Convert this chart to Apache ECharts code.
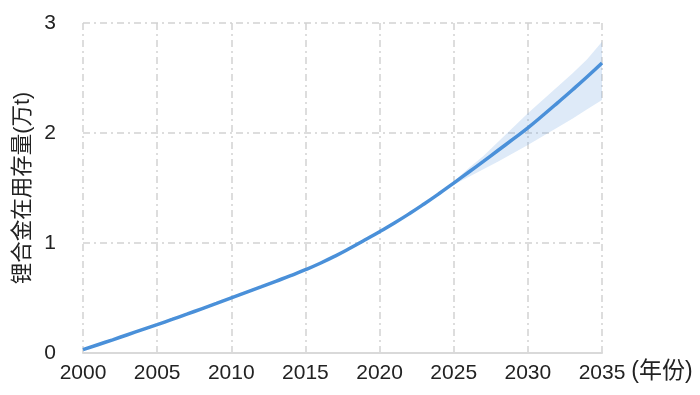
<!DOCTYPE html>
<html><head><meta charset="utf-8">
<script src="https://cdn.jsdelivr.net/npm/echarts@6/dist/echarts.min.js"></script>
<style>html,body{margin:0;padding:0;background:#fff}#c{width:700px;height:395px}</style>
</head><body><div id="c"></div>
<script>
var years = [2000,2001,2002,2003,2004,2005,2006,2007,2008,2009,2010,2011,2012,2013,2014,2015,2016,2017,2018,2019,2020,2021,2022,2023,2024,2025,2026,2027,2028,2029,2030,2031,2032,2033,2034,2035];
var stock = [0.03,0.075,0.12,0.166,0.212,0.258,0.305,0.353,0.402,0.451,0.501,0.551,0.601,0.652,0.703,0.757,0.816,0.881,0.952,1.027,1.103,1.182,1.266,1.355,1.448,1.545,1.643,1.742,1.843,1.944,2.047,2.159,2.274,2.391,2.511,2.636];
var bandYears = [2024,2025,2026,2027,2028,2029,2030,2031,2032,2033,2034,2035];
var bandLow  = [1.448,1.53,1.60,1.67,1.74,1.815,1.89,1.97,2.05,2.13,2.215,2.30];
var bandHigh = [1.448,1.56,1.68,1.79,1.92,2.05,2.18,2.30,2.42,2.54,2.67,2.83];
var xTicks = [2000,2005,2010,2015,2020,2025,2030,2035];
var yTicks = [0,1,2,3];
var yName = '锂合金在用存量(万t)';
var xName = '(年份)';

var FONT = '"Liberation Sans","Noto Sans CJK SC",sans-serif';
var gridLine = {show:true, lineStyle:{color:'#d2d2d2', width:1.5, type:[7,4,2,4]}};
var chart = echarts.init(document.getElementById('c'), null, {renderer:'canvas'});
chart.setOption({
  animation:false,
  grid:{left:83, right:98, top:23, bottom:42},
  xAxis:{type:'value', min:xTicks[0], max:xTicks[xTicks.length-1], interval:5,
    name:xName, nameLocation:'end', nameGap:28,
    nameTextStyle:{color:'#222', fontSize:23, fontFamily:FONT, verticalAlign:'top', padding:[7,0,0,0]},
    axisLine:{show:true, lineStyle:{color:'#d9d9d9', width:2}},
    axisTick:{show:false},
    axisLabel:{color:'#222', fontSize:21, fontFamily:FONT, margin:10, formatter:function(v){return String(v);}},
    splitLine:gridLine},
  yAxis:{type:'value', min:yTicks[0], max:yTicks[yTicks.length-1], interval:1,
    name:yName, nameLocation:'middle', nameGap:45, nameRotate:90,
    nameTextStyle:{color:'#222', fontSize:21.5, fontFamily:FONT},
    axisLine:{show:false}, axisTick:{show:false},
    axisLabel:{color:'#222', fontSize:21, fontFamily:FONT, margin:27},
    splitLine:gridLine},
  series:[
    {type:'custom', silent:true, z:3,
     data:[0],
     renderItem:function(params, api){
       var pts = [];
       for (var i=0;i<bandYears.length;i++) pts.push(api.coord([bandYears[i], bandHigh[i]]));
       for (var j=bandYears.length-1;j>=0;j--) pts.push(api.coord([bandYears[j], bandLow[j]]));
       return {type:'polygon', shape:{points:pts, smooth:0}, style:{fill:'rgba(90,150,220,0.2)'}};
     }},
    {type:'line', data:years.map(function(y,i){return [y,stock[i]];}), smooth:true,
     symbol:'none', lineStyle:{color:'#4a90d9', width:3.5}, z:5}
  ]
});
</script></body></html>
